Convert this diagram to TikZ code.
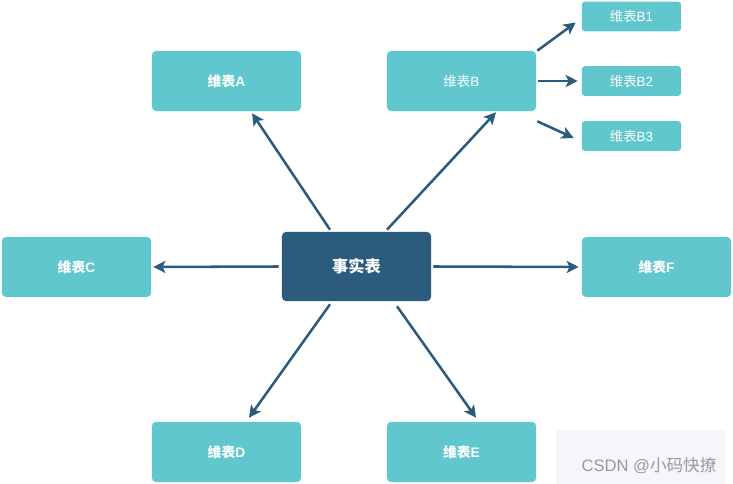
\documentclass[tikz,border=0pt]{standalone}
\usepackage{fontspec}
\setmainfont{Liberation Sans}
\newfontfamily\cjk{Noto Sans CJK SC}
\usetikzlibrary{arrows.meta,positioning,calc}

\definecolor{factblue}{HTML}{2B5C7E}
\definecolor{dimteal}{HTML}{60C7CE}
\definecolor{markgray}{HTML}{F5F6F9}

\tikzset{
  dimbox/.style={fill=dimteal, rounded corners=0.1cm, minimum width=3.725cm, minimum height=1.5cm, text=white, font=\fontsize{9.8}{12}\selectfont\bfseries},
  subbox/.style={fill=dimteal, rounded corners=0.07cm, minimum width=2.475cm, minimum height=0.74cm, text=white, font=\fontsize{9.5}{11}\selectfont},
  link/.style={draw=factblue, line width=1.8pt, -{Stealth[length=0.3cm, width=0.3cm, inset=0.07cm]}}
}

\begin{document}
\begin{tikzpicture}[x=0.025cm, y=-0.025cm]
\useasboundingbox (0,0) rectangle (733,484);

\node[fill=factblue, rounded corners=0.1cm, minimum width=3.725cm, minimum height=1.725cm, text=white, font=\fontsize{11.5}{14}\selectfont\bfseries] (fact) at (356.5,266.5) {\cjk 事实表};

\node[dimbox] (dimA) at (226.5,81) {{\cjk 维表}A};
\node[dimbox, font=\fontsize{9.6}{12}\selectfont] (dimB) at (461.5,81) {{\cjk 维表}B};
\node[dimbox] (dimC) at (76.5,267) {{\cjk 维表}C};
\node[dimbox] (dimF) at (656.5,267) {{\cjk 维表}F};
\node[dimbox] (dimD) at (226.5,452) {{\cjk 维表}D};
\node[dimbox] (dimE) at (461.5,452) {{\cjk 维表}E};

\node[subbox] (dimB1) at (631.5,16.5) {{\cjk 维表}B1};
\node[subbox] (dimB2) at (631.5,81) {{\cjk 维表}B2};
\node[subbox] (dimB3) at (631.5,136) {{\cjk 维表}B3};

\draw[link] ($(fact.north)+(-26.5,-2)$) -- ($(dimA.south)+(25.5,2)$);
\draw[link] ($(fact.north)+(30.5,-2)$) -- ($(dimB.south)+(34.5,1)$);
\draw[link] ($(fact.west)+(-3,0)$) -- ($(dimC.east)+(2,0)$);
\draw[link] ($(fact.east)+(2,0)$) -- ($(dimF.west)+(-3,0)$);
\draw[link] ($(fact.south)+(-26.5,3)$) -- ($(dimD.north)+(22.5,-4)$);
\draw[link] ($(fact.south)+(40.5,5)$) -- ($(dimE.north)+(14.5,-4)$);

\draw[link] ($(dimB.north east)+(1,0)$) -- ($(dimB1.west)+(-6,6)$);
\draw[link] ($(dimB.east)+(2,0)$) -- ($(dimB2.west)+(-4,0)$);
\draw[link] ($(dimB.south east)+(1,10)$) -- ($(dimB3.west)+(-8,2)$);

% watermark
\node[fill=markgray, minimum width=4.25cm, minimum height=1.35cm, inner sep=0pt] (markbg) at (641,457) {};
\node[text=gray!80, font=\fontsize{11.8}{14}\selectfont] (mark) at (649,466) {CSDN @{\cjk 小码快撩}};
\end{tikzpicture}
\end{document}
